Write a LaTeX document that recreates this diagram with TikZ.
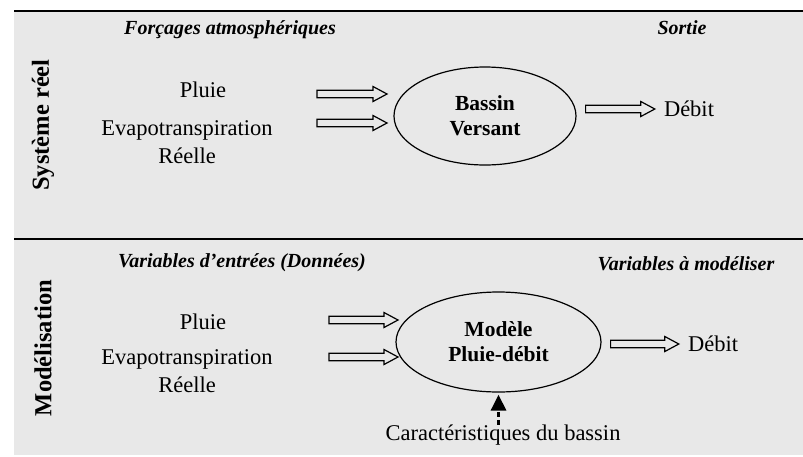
\documentclass[tikz,border=0pt]{standalone}
\usepackage{fontspec}
\setmainfont{Liberation Serif}
\usetikzlibrary{
  positioning, calc,
  arrows.meta, shapes.geometric
}
\definecolor{panelgray}{RGB}{232,232,232}
\tikzset{
  txt/.style={inner sep=0pt, align=center, font=\fontsize{22.5}{28}\selectfont},
  head/.style={inner sep=0pt, font=\fontsize{20}{24}\selectfont\bfseries\itshape},
  side/.style={inner sep=0pt, rotate=90, font=\fontsize{24.5}{29}\selectfont\bfseries},
  blob/.style={draw, ellipse, line width=1.2pt, inner sep=0pt, align=center,
    font=\fontsize{21.5}{25}\selectfont\bfseries},
  arrgap/.store in=\arrgap, arrgap=0pt,
  bigarrow/.style={line width=1.2pt, to path={let \p1=(\tikztostart), \p2=(\tikztotarget) in
    (\x1+\arrgap,\y2+3.8pt) -- (\x2-\arrgap-14pt,\y2+3.8pt) -- (\x2-\arrgap-14pt,\y2+7.5pt)
    -- (\x2-\arrgap,\y2) -- (\x2-\arrgap-14pt,\y2-7.5pt) -- (\x2-\arrgap-14pt,\y2-3.8pt)
    -- (\x1+\arrgap,\y2-3.8pt) -- cycle}},
  dasharrow/.style={line width=3pt, dash pattern=on 5pt off 3pt,
    -{Triangle[length=16pt,width=15pt]}, shorten >=2pt}
}
\begin{document}
\begin{tikzpicture}[x=1pt,y=-1pt]
  \useasboundingbox (0,0) rectangle (803,456);
  \fill[panelgray] (14,11) rectangle (803,455);
  \draw[line width=1.6pt] (14,11) -- (803,11) (14,239) -- (803,239);

  \node[head] (forc) at (230,30) {Forçages atmosphériques};
  \node[head] (sortie) at (682,28) {Sortie};
  \node[side] (sys) at (43,125) {Système réel};
  \node[txt] (pluie_1) at (203,90) {Pluie};
  \node[txt] (etr_1) at (187,142) {Evapotranspiration\\Réelle};
  \node[blob, minimum width=182pt, minimum height=98pt] (bv) at (485,116) {Bassin\\Versant};
  \node[txt] (debit_1) at (689,109) {Débit};
  \coordinate (a_1) at (317,94);  \coordinate (b_1) at (387,94);
  \coordinate (a_2) at (317,123); \coordinate (b_2) at (387,123);
  \draw[bigarrow] (a_1) to (b_1) (a_2) to (b_2);
  \draw[bigarrow, arrgap=9pt] (bv.east) to (debit_1.west);

  \node[head] (vars) at (242,263) {Variables d’entrées (Données)};
  \node[head] (varm) at (686,264) {Variables à modéliser};
  \node[side] (mod) at (43,348) {Modélisation};
  \node[txt] (pluie_2) at (203,322) {Pluie};
  \node[txt] (etr_2) at (187,371) {Evapotranspiration\\Réelle};
  \node[blob, minimum width=205pt, minimum height=100pt] (mp) at (498.5,342) {Modèle\\Pluie-débit};
  \node[txt] (debit_2) at (713,344) {Débit};
  \node[txt] (car) at (503,435) {Caractéristiques du bassin};
  \coordinate (c_1) at (329,320); \coordinate (d_1) at (398,320);
  \coordinate (c_2) at (329,357); \coordinate (d_2) at (398,357);
  \draw[bigarrow] (c_1) to (d_1) (c_2) to (d_2);
  \draw[bigarrow, arrgap=9pt] (mp.east) to (debit_2.west);
  \draw[dasharrow] (car.north -| mp.south) -- (mp.south);
\end{tikzpicture}
\end{document}
